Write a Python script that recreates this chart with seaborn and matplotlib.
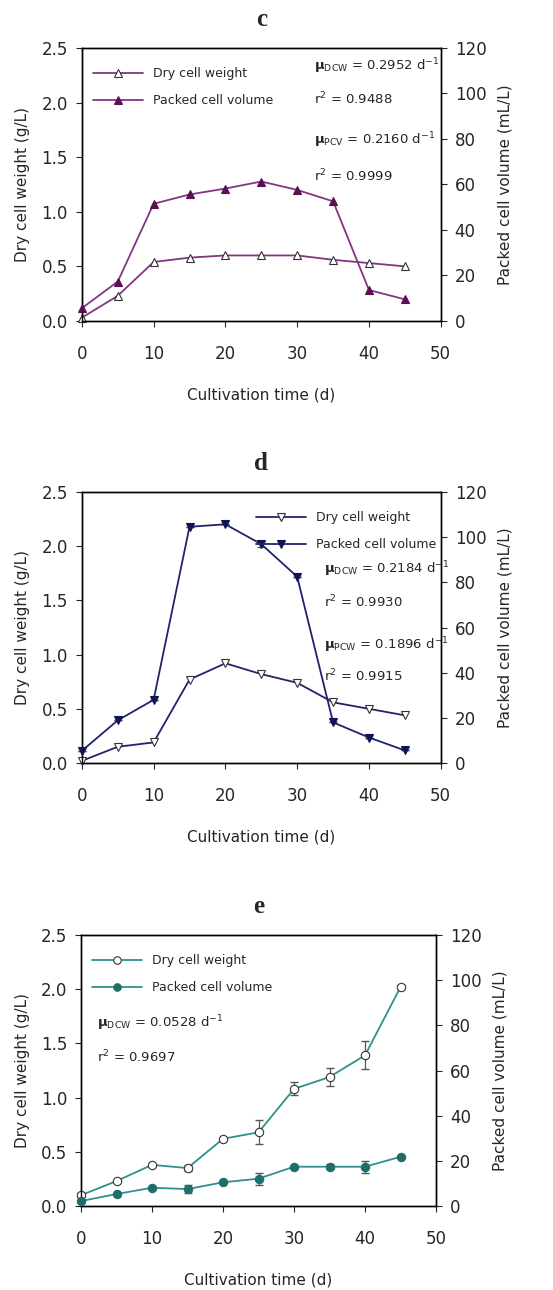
import numpy as np
import pandas as pd
import seaborn as sns
from matplotlib import pyplot as plt

# Cultivation time (days)
days = [0, 5, 10, 15, 20, 25, 30, 35, 40, 45]

# Panel c
dcw_c = [0.03, 0.23, 0.54, 0.58, 0.60, 0.60, 0.60, 0.56, 0.53, 0.50]
pcv_c = [5.6, 17.3, 51.5, 55.6, 58.2, 61.3, 57.6, 52.6, 13.6, 9.5]

# Panel d
dcw_d = [0.02, 0.15, 0.19, 0.77, 0.92, 0.82, 0.74, 0.56, 0.50, 0.44]
pcv_d = [5.4, 18.9, 28.0, 104.6, 105.7, 96.9, 82.5, 18.0, 11.3, 5.6]
pcv_d_err = [0, 0, 0, 0, 0, 1.3, 0, 0, 0, 0]

# Panel e
dcw_e = [0.10, 0.23, 0.38, 0.35, 0.62, 0.68, 1.08, 1.19, 1.39, 2.02]
dcw_e_err = [0.02, 0.01, 0.01, 0.03, 0.02, 0.11, 0.06, 0.08, 0.13, 0.02]
pcv_e = [2.2, 5.3, 8.1, 7.5, 10.5, 12.1, 17.4, 17.4, 17.4, 21.8]
pcv_e_err = [0.5, 0.5, 0.5, 1.8, 0.5, 2.7, 0.5, 1.2, 2.6, 0.5]

sns.set_theme(style="ticks")
plt.rcParams['font.family'] = ['DejaVu Sans']
plt.rcParams['mathtext.fontset'] = 'dejavusans'

fig = plt.figure(figsize=(5.53, 12.9), dpi=100)

panels = [
    dict(letter="c", rect=[0.148, 0.7512, 0.649, 0.2116], dcw=dcw_c, pcv=pcv_c,
         line="#823580", face="#5a1052", marker="^",
         dcw_err=None, pcv_err=None, leg_loc="upper left", leg_anchor=(0.0, 0.97),
         notes=[(32.3, 2.30, r"$\mathbf{\mu}_{\mathrm{DCW}}$ = 0.2952 d$^{-1}$"),
                (32.3, 1.98, r"r$^{2}$ = 0.9488"),
                (32.3, 1.62, r"$\mathbf{\mu}_{\mathrm{PCV}}$ = 0.2160 d$^{-1}$"),
                (32.3, 1.28, r"r$^{2}$ = 0.9999")]),
    dict(letter="d", rect=[0.148, 0.4085, 0.649, 0.2101], dcw=dcw_d, pcv=pcv_d,
         line="#22226e", face="#0e1552", marker="v",
         dcw_err=None, pcv_err=pcv_d_err, leg_loc="upper right", leg_anchor=(1.02, 0.97),
         notes=[(33.8, 1.75, r"$\mathbf{\mu}_{\mathrm{DCW}}$ = 0.2184 d$^{-1}$"),
                (33.8, 1.44, r"r$^{2}$ = 0.9930"),
                (33.8, 1.05, r"$\mathbf{\mu}_{\mathrm{PCW}}$ = 0.1896 d$^{-1}$"),
                (33.8, 0.75, r"r$^{2}$ = 0.9915")]),
    dict(letter="e", rect=[0.1465, 0.0651, 0.642, 0.2101], dcw=dcw_e, pcv=pcv_e,
         line="#2f918a", face="#1e6f6a", marker="o",
         dcw_err=dcw_e_err, pcv_err=pcv_e_err, leg_loc="upper left", leg_anchor=(0.0, 0.97),
         notes=[(2.3, 1.65, r"$\mathbf{\mu}_{\mathrm{DCW}}$ = 0.0528 d$^{-1}$"),
                (2.3, 1.33, r"r$^{2}$ = 0.9697")]),
]

for p in panels:
    ax = fig.add_axes(p["rect"])
    ax2 = ax.twinx()
    df = pd.DataFrame({"day": days, "dcw": p["dcw"], "pcv": p["pcv"]})

    if p["dcw_err"] is not None:
        ax.errorbar(days, p["dcw"], yerr=p["dcw_err"], fmt="none", ecolor="#555555",
                    elinewidth=0.9, capsize=3, zorder=2, clip_on=False)
    if p["pcv_err"] is not None:
        ax2.errorbar(days, p["pcv"], yerr=p["pcv_err"], fmt="none", ecolor="#555555",
                     elinewidth=0.9, capsize=3, zorder=2, clip_on=False)

    sns.lineplot(data=df, x="day", y="dcw", ax=ax, color=p["line"], lw=1.3,
                 marker=p["marker"], markersize=6, markerfacecolor="white",
                 markeredgecolor="#333333", markeredgewidth=0.8,
                 label="Dry cell weight", legend=False, zorder=3, clip_on=False)
    sns.lineplot(data=df, x="day", y="pcv", ax=ax2, color=p["line"], lw=1.3,
                 marker=p["marker"], markersize=6, markerfacecolor=p["face"],
                 markeredgecolor=p["face"], markeredgewidth=0.8,
                 label="Packed cell volume", legend=False, zorder=3, clip_on=False)

    ax.set_xlim(0, 50)
    ax.set_ylim(0, 2.5)
    ax2.set_ylim(0, 120)
    ax.set_xticks(np.arange(0, 51, 10))
    ax.set_yticks(np.arange(0, 2.51, 0.5))
    ax.set_yticklabels([f"{v:.1f}" for v in np.arange(0, 2.51, 0.5)])
    ax2.set_yticks(np.arange(0, 121, 20))

    for a in (ax, ax2):
        for s in a.spines.values():
            s.set_linewidth(1.0)
            s.set_color("black")
        a.tick_params(labelsize=12, length=4, width=0.8, pad=6)
    ax.tick_params(axis="x", pad=13)

    ax.set_xlabel("Cultivation time (d)", fontsize=11, labelpad=18)
    ax.set_ylabel("Dry cell weight (g/L)", fontsize=11, labelpad=8)
    ax2.set_ylabel("Packed cell volume (mL/L)", fontsize=11, labelpad=8)

    ax.set_title(p["letter"], fontsize=18, fontweight="bold", family="Liberation Serif", pad=16)

    h1, l1 = ax.get_legend_handles_labels()
    h2, l2 = ax2.get_legend_handles_labels()
    ax2.legend(h1 + h2, l1 + l2, loc=p["leg_loc"], bbox_to_anchor=p["leg_anchor"],
               frameon=False, fontsize=9, handlelength=4, labelspacing=1.1, numpoints=1,
               markerscale=0.9)

    for x, y, txt in p["notes"]:
        ax.text(x, y, txt, fontsize=9.5, zorder=5)

fig.savefig("out.png", dpi=100)
